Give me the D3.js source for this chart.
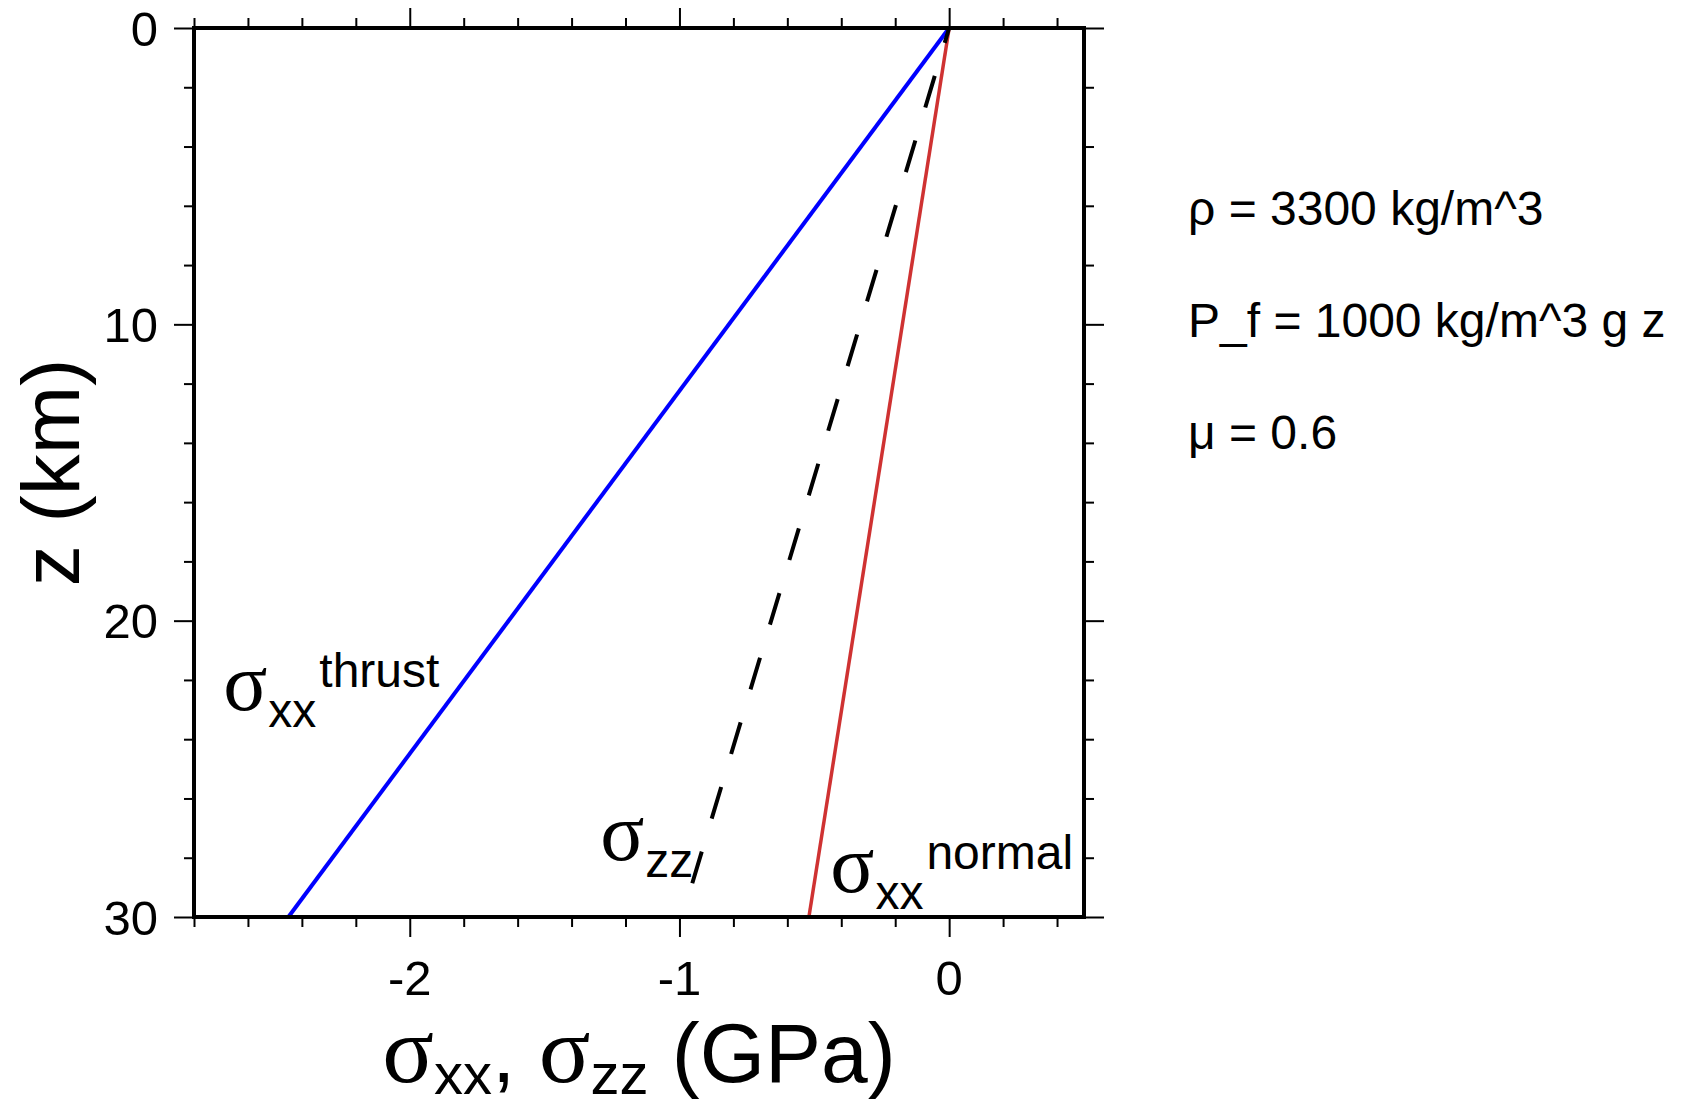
<!DOCTYPE html>
<html>
<head>
<meta charset="utf-8">
<script src="https://cdn.jsdelivr.net/npm/d3@7"></script>
<style>
  body { margin: 0; background: #fff; }
  svg { display: block; }
  text { font-family: "Liberation Sans", Arial, Helvetica, sans-serif; fill: #000; }
  .greek { font-family: "Liberation Serif", "Times New Roman", serif; }
</style>
</head>
<body>
<div id="chart"></div>
<script>
const
  width = 1683,
  height = 1106;

// depth (km) and stresses (GPa) at the two ends of each line
const depth = [0, 30];
const sxxThrust = [0, -2.45];
const szz = [0, -0.99];
const sxxNormal = [0, -0.52];

// axis ticks
const xMajorTicks = [-2, -1, 0];
const xMinorTicks = [-2.8, -2.6, -2.4, -2.2, -1.8, -1.6, -1.4, -1.2, -0.8, -0.6, -0.4, -0.2, 0.2, 0.4];
const yMajorTicks = [0, 10, 20, 30];
const yMinorTicks = [2, 4, 6, 8, 12, 14, 16, 18, 22, 24, 26, 28];

const notes = ["ρ = 3300 kg/m^3", "P_f = 1000 kg/m^3 g z", "μ = 0.6"];

const plot = {left: 194, right: 1084, top: 28, bottom: 917};

const svg = d3.select("#chart")
  .append("svg")
  .attr("width", width)
  .attr("height", height);

const x = d3.scaleLinear()
  .domain([-2.8, 0.5])
  .range([plot.left, plot.right]);

const y = d3.scaleLinear()
  .domain([0, 30])
  .range([plot.top, plot.bottom]);

// ticks on all four sides, pointing outward
function drawTicks(axis, transform, values, size) {
  const g = svg.append("g")
    .attr("transform", transform)
    .call(axis.tickValues(values).tickSize(size).tickFormat(""));
  g.select(".domain").remove();
  g.selectAll(".tick line").attr("stroke", "#000").attr("stroke-width", 2);
  return g;
}
drawTicks(d3.axisTop(x), `translate(0,${plot.top})`, xMinorTicks, 10);
drawTicks(d3.axisTop(x), `translate(0,${plot.top})`, xMajorTicks, 20);
drawTicks(d3.axisBottom(x), `translate(0,${plot.bottom})`, xMinorTicks, 10);
drawTicks(d3.axisBottom(x), `translate(0,${plot.bottom})`, xMajorTicks, 20);
drawTicks(d3.axisLeft(y), `translate(${plot.left},0)`, yMinorTicks, 10);
drawTicks(d3.axisLeft(y), `translate(${plot.left},0)`, yMajorTicks, 20);
drawTicks(d3.axisRight(y), `translate(${plot.right},0)`, yMinorTicks, 10);
drawTicks(d3.axisRight(y), `translate(${plot.right},0)`, yMajorTicks, 20);

// tick labels
svg.append("g")
  .selectAll("text")
  .data(xMajorTicks)
  .enter().append("text")
  .attr("x", d => x(d))
  .attr("y", 995)
  .attr("text-anchor", "middle")
  .attr("font-size", 49)
  .text(d => d);

svg.append("g")
  .selectAll("text")
  .data(yMajorTicks)
  .enter().append("text")
  .attr("x", 158)
  .attr("y", d => y(d))
  .attr("dy", "0.36em")
  .attr("text-anchor", "end")
  .attr("font-size", 49)
  .text(d => d);

// lines
const line = d3.line()
  .x(d => x(d[0]))
  .y(d => y(d[1]));

function drawLine(values, color, w, dash) {
  const p = svg.append("path")
    .datum(values.map((v, i) => [v, depth[i]]))
    .attr("d", line)
    .attr("fill", "none")
    .attr("stroke", color)
    .attr("stroke-width", w);
  if (dash) {
    p.attr("stroke-dasharray", dash).attr("stroke-dashoffset", 17.5);
  }
}
drawLine(sxxThrust, "#0000ff", 4);
drawLine(sxxNormal, "#cf3232", 3.5);
drawLine(szz, "#000", 4, "33,34.5");

// frame
svg.append("rect")
  .attr("x", plot.left)
  .attr("y", plot.top)
  .attr("width", plot.right - plot.left)
  .attr("height", plot.bottom - plot.top)
  .attr("fill", "none")
  .attr("stroke", "#000")
  .attr("stroke-width", 4);

// sigma labels: [x, z, subscript, superscript]
const sigmaLabels = [
  [-2.692, 23.0, "xx", "thrust"],
  [-1.294, 28.08, "zz", ""],
  [-0.441, 29.16, "xx", "normal"]
];
sigmaLabels.forEach(function (d) {
  const t = svg.append("text")
    .attr("x", x(d[0]))
    .attr("y", y(d[1]));
  t.append("tspan").attr("class", "greek").attr("font-size", 82).text("σ");
  t.append("tspan").attr("font-size", 48).attr("dy", 17).attr("dx", 1).text(d[2]);
  if (d[3]) {
    t.append("tspan").attr("font-size", 48).attr("dy", -40).attr("dx", 3).text(d[3]);
  }
});

// x axis title
const xt = svg.append("text")
  .attr("x", (plot.left + plot.right) / 2)
  .attr("y", 1082)
  .attr("text-anchor", "middle")
  .attr("font-size", 84);
xt.append("tspan").attr("class", "greek").attr("font-size", 96).text("σ");
xt.append("tspan").attr("font-size", 58).attr("dy", 12).text("xx");
xt.append("tspan").attr("dy", -12).text(", ");
xt.append("tspan").attr("class", "greek").attr("font-size", 96).text("σ");
xt.append("tspan").attr("font-size", 58).attr("dy", 12).text("zz");
xt.append("tspan").attr("dy", -12).text(" (GPa)");

// y axis title
svg.append("text")
  .attr("transform", `translate(79,${(plot.top + plot.bottom) / 2}) rotate(-90)`)
  .attr("text-anchor", "middle")
  .attr("font-size", 82)
  .text("z (km)");

// parameter notes
svg.append("g")
  .selectAll("text")
  .data(notes)
  .enter().append("text")
  .attr("x", 1188)
  .attr("y", (d, i) => 225 + i * 112)
  .attr("font-size", 48)
  .text(d => d);
</script>
</body>
</html>
